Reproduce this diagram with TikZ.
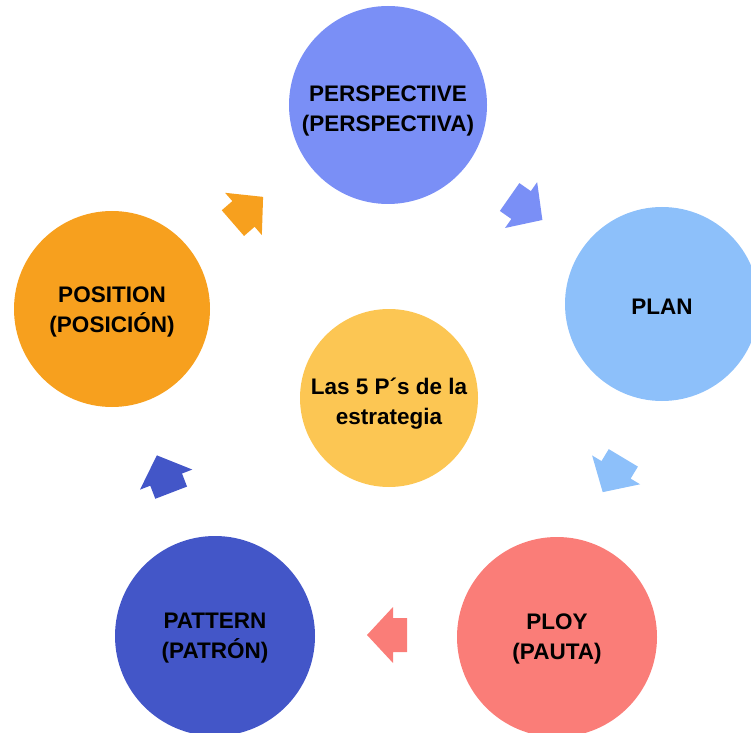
\documentclass[tikz,border=0pt]{standalone}
\usepackage{fontspec}
\setmainfont{Liberation Sans}
\definecolor{cPersp}{RGB}{122,143,246}
\definecolor{cPlan}{RGB}{141,192,250}
\definecolor{cPloy}{RGB}{250,125,120}
\definecolor{cPatt}{RGB}{67,86,200}
\definecolor{cPos}{RGB}{247,160,30}
\definecolor{cCenter}{RGB}{252,198,83}
\tikzset{
  bubble/.style={circle, inner sep=0pt},
  bubbletext/.style={inner sep=0pt, align=center, text=black,
    font=\fontsize{22.5}{30}\selectfont\bfseries},
  blockarrow/.pic={
    \fill[#1] (-20,-17) -- (-6,-17) -- (-6,-28) -- (20,0) -- (-6,28) -- (-6,17) -- (-20,17) -- cycle;
  }
}
\begin{document}
\begin{tikzpicture}[x=1pt,y=1pt]
\useasboundingbox (0,0) rectangle (751,732);
\clip (0,0) rectangle (751,732);
\node[bubble, fill=cPersp, minimum size=198pt] (persp) at (388,627) {};
\node[bubble, fill=cPlan, minimum size=194pt] (plan) at (662,428) {};
\node[bubble, fill=cPloy, minimum size=200pt] (ploy) at (557,95) {};
\node[bubble, fill=cPatt, minimum size=200pt] (patt) at (215,96) {};
\node[bubble, fill=cPos, minimum size=196pt] (pos) at (112,423) {};
\node[bubble, fill=cCenter, minimum size=178pt] (center) at (389,334) {};
\node[bubbletext] (persptxt) at ([yshift=-6pt]persp.center) {PERSPECTIVE\\(PERSPECTIVA)};
\node[bubbletext] (plantxt) at ([yshift=-3pt]plan.center) {PLAN};
\node[bubbletext] (ploytxt) at ([yshift=-2pt]ploy.center) {PLOY\\(PAUTA)};
\node[bubbletext] (patttxt) at ([yshift=-2pt]patt.center) {PATTERN\\(PATRÓN)};
\node[bubbletext] (postxt) at ([yshift=-3pt]pos.center) {POSITION\\(POSICIÓN)};
\node[bubbletext] (centertxt) at ([yshift=-6pt]center.center) {Las 5 P´s de la\\estrategia};
\pic[rotate=41] at (248,522) {blockarrow=cPos};
\pic[rotate=-35] at (526,523.5) {blockarrow=cPersp};
\pic[rotate=-121] at (613,257) {blockarrow=cPlan};
\pic[rotate=180] at (387,97) {blockarrow=cPloy};
\pic[rotate=111] at (164,258) {blockarrow=cPatt};
\end{tikzpicture}
\end{document}
